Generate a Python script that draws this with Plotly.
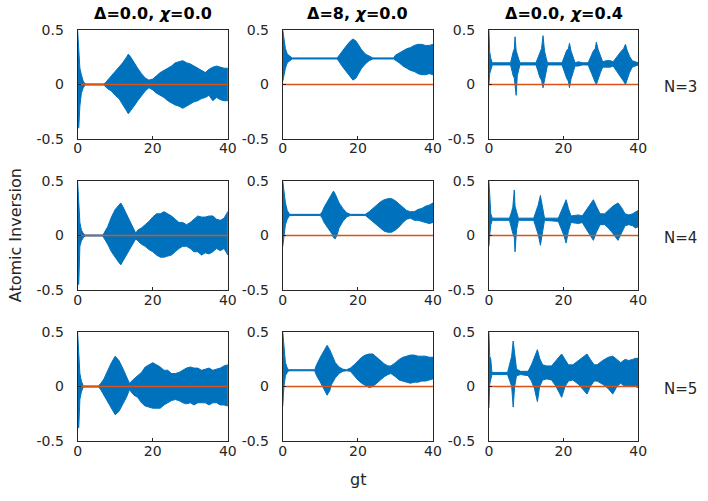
import plotly.graph_objects as go

# ---------------- data ----------------
# each row: (gt, upper envelope, lower envelope) of the atomic inversion
COL_TITLES = ["<b>Δ=0.0, <i>χ</i>=0.0</b>", "<b>Δ=8, <i>χ</i>=0.0</b>", "<b>Δ=0.0, <i>χ</i>=0.4</b>"]
ROW_LABELS = ["N=3", "N=4", "N=5"]
X_TICKS = [0, 20, 40]
X_TICK_TEXT = ["0", "20", "40"]
Y_TICKS = [-0.5, 0, 0.5]
Y_TICK_TEXT = ["-0.5", "0", "0.5"]
T_RANGE = [0, 40]
ZERO_LINE = [0, 0]

N3_D0_X0 = [
    (0, 0.5, -0.4), (0.3, 0.33, -0.4), (0.6, 0.15, -0.2), (1.0, 0.09, -0.08), (1.5, 0.03, -0.03),
    (2.0, 0.005, -0.005), (7.0, 0.005, -0.005), (7.5, 0.02, -0.02), (8, 0.04, -0.04), (9, 0.07, -0.06),
    (10, 0.11, -0.1), (11, 0.16, -0.13), (12, 0.2, -0.19), (13, 0.25, -0.24), (13.5, 0.28, -0.27),
    (14, 0.26, -0.25), (15, 0.2, -0.2), (16, 0.15, -0.15), (17, 0.1, -0.1), (18, 0.06, -0.06),
    (19, 0.04, -0.03), (20, 0.05, -0.05), (21, 0.08, -0.08), (22, 0.11, -0.1), (23, 0.13, -0.12),
    (24, 0.15, -0.15), (25, 0.17, -0.17), (26, 0.2, -0.19), (27, 0.21, -0.2), (28, 0.22, -0.22),
    (29, 0.2, -0.2), (30, 0.19, -0.18), (31, 0.17, -0.16), (32, 0.15, -0.15), (33, 0.13, -0.13),
    (34, 0.11, -0.12), (35, 0.14, -0.1), (36, 0.16, -0.15), (37, 0.17, -0.12), (38, 0.16, -0.14),
    (39, 0.15, -0.15), (40, 0.15, -0.15),
]
N3_D8_X0 = [
    (0, 0.5, 0.03), (0.3, 0.42, 0.06), (0.7, 0.33, 0.15), (1.2, 0.28, 0.2), (1.8, 0.26, 0.22),
    (2.5, 0.245, 0.235), (14.5, 0.245, 0.235), (15, 0.27, 0.21), (16, 0.31, 0.16), (17, 0.36, 0.11),
    (18, 0.4, 0.07), (18.7, 0.42, 0.04), (19.5, 0.4, 0.06), (20, 0.37, 0.09), (21, 0.32, 0.15),
    (22, 0.28, 0.19), (23, 0.26, 0.22), (24, 0.245, 0.235), (29.5, 0.245, 0.235), (30, 0.27, 0.22),
    (31, 0.29, 0.2), (32, 0.31, 0.17), (33, 0.33, 0.15), (34, 0.34, 0.13), (35, 0.36, 0.12),
    (36, 0.37, 0.1), (37, 0.37, 0.09), (38, 0.36, 0.09), (39, 0.36, 0.1), (40, 0.37, 0.09),
]
N3_D0_X04 = [
    (0, 0.5, 0.0), (0.2, 0.3, 0.1), (0.5, 0.24, 0.14), (0.9, 0.2, 0.18), (5.8, 0.2, 0.18),
    (6.1, 0.25, 0.14), (6.5, 0.3, 0.08), (6.8, 0.33, 0.06), (7.0, 0.44, 0.04), (7.3, 0.31, -0.1),
    (7.6, 0.28, 0.08), (8.0, 0.23, 0.14), (8.3, 0.2, 0.18), (12.6, 0.2, 0.18), (13.1, 0.25, 0.13),
    (13.6, 0.3, 0.07), (14.1, 0.33, 0.04), (14.5, 0.45, -0.03), (14.9, 0.31, 0.05), (15.3, 0.25, 0.12),
    (15.7, 0.2, 0.18), (19.6, 0.2, 0.18), (20.2, 0.26, 0.12), (20.8, 0.31, 0.06), (21.3, 0.33, 0.03),
    (21.6, 0.38, -0.03), (22.0, 0.31, 0.05), (22.5, 0.26, 0.11), (23.1, 0.2, 0.17), (24.0, 0.21, 0.17),
    (25.0, 0.2, 0.18), (26.6, 0.2, 0.18), (27.3, 0.26, 0.12), (28.0, 0.31, 0.06), (28.5, 0.33, 0.02),
    (28.8, 0.39, 0.0), (29.3, 0.32, 0.04), (29.9, 0.26, 0.11), (30.5, 0.21, 0.16), (31.5, 0.22, 0.16),
    (32.5, 0.22, 0.16), (33.3, 0.21, 0.17), (34.3, 0.26, 0.12), (35.3, 0.3, 0.07), (36.1, 0.33, 0.03),
    (36.6, 0.37, 0.0), (37.1, 0.31, 0.05), (37.7, 0.26, 0.11), (38.4, 0.22, 0.16), (39.2, 0.21, 0.17),
    (40, 0.2, 0.18),
]
N4_D0_X0 = [
    (0, 0.5, -0.45), (0.3, 0.3, -0.45), (0.6, 0.12, -0.1), (1.0, 0.05, -0.05), (1.5, 0.02, -0.02),
    (2, 0.005, -0.005), (6.7, 0.005, -0.005), (7, 0.02, -0.02), (8, 0.08, -0.08), (9, 0.17, -0.15),
    (10, 0.24, -0.2), (11, 0.28, -0.25), (11.5, 0.3, -0.27), (12, 0.27, -0.25), (13, 0.2, -0.18),
    (14, 0.12, -0.12), (15, 0.05, -0.06), (15.5, 0.02, -0.03), (16, 0.05, -0.05), (17, 0.07, -0.08),
    (18, 0.1, -0.1), (19, 0.13, -0.13), (20, 0.17, -0.15), (21, 0.2, -0.18), (22, 0.2, -0.2),
    (23, 0.22, -0.2), (24, 0.2, -0.19), (25, 0.18, -0.18), (26, 0.15, -0.15), (27, 0.12, -0.12),
    (28, 0.12, -0.1), (29, 0.1, -0.1), (30, 0.12, -0.12), (31, 0.15, -0.15), (32, 0.18, -0.15),
    (33, 0.17, -0.18), (34, 0.17, -0.16), (35, 0.18, -0.17), (36, 0.18, -0.15), (37, 0.15, -0.12),
    (38, 0.14, -0.14), (39, 0.16, -0.12), (40, 0.22, -0.18),
]
N4_D8_X0 = [
    (0, 0.5, -0.1), (0.3, 0.4, 0.0), (0.7, 0.3, 0.1), (1.2, 0.23, 0.15), (1.8, 0.195, 0.185),
    (10, 0.195, 0.185), (10.5, 0.22, 0.16), (11, 0.26, 0.12), (12, 0.32, 0.07), (13, 0.38, 0.02),
    (13.5, 0.41, -0.02), (14, 0.38, -0.03), (14.5, 0.34, 0.01), (15, 0.3, 0.07), (16, 0.25, 0.13),
    (17, 0.21, 0.17), (18, 0.195, 0.185), (22, 0.195, 0.185), (23, 0.22, 0.16), (24, 0.25, 0.13),
    (25, 0.28, 0.1), (26, 0.31, 0.07), (27, 0.33, 0.04), (28, 0.34, 0.03), (29, 0.34, 0.03),
    (30, 0.32, 0.05), (31, 0.29, 0.08), (32, 0.26, 0.12), (33, 0.23, 0.15), (34, 0.22, 0.16),
    (35, 0.22, 0.14), (36, 0.24, 0.14), (37, 0.25, 0.13), (38, 0.27, 0.12), (39, 0.28, 0.11),
    (40, 0.3, 0.12),
]
N4_D0_X04 = [
    (0, 0.5, -0.1), (0.2, 0.3, 0.0), (0.5, 0.2, 0.1), (0.9, 0.16, 0.14), (5.5, 0.16, 0.14),
    (6.0, 0.21, 0.08), (6.4, 0.26, 0.02), (6.8, 0.42, -0.02), (7.0, 0.27, -0.15), (7.4, 0.22, 0.05),
    (7.9, 0.16, 0.14), (12.0, 0.16, 0.14), (12.6, 0.22, 0.08), (13.2, 0.28, 0.01), (13.8, 0.37, -0.09),
    (14.3, 0.26, 0.03), (14.9, 0.16, 0.14), (18.6, 0.16, 0.13), (19.4, 0.23, 0.06), (20.1, 0.28, 0.0),
    (20.7, 0.33, -0.07), (21.3, 0.25, 0.04), (22.0, 0.18, 0.12), (24.0, 0.19, 0.11), (25.0, 0.18, 0.12),
    (26.0, 0.23, 0.07), (27.0, 0.28, 0.01), (28.0, 0.33, -0.045), (28.8, 0.27, 0.03), (29.8, 0.2, 0.1),
    (31.0, 0.2, 0.1), (32.0, 0.23, 0.07), (33.2, 0.27, 0.02), (34.6, 0.3, -0.045), (35.5, 0.26, 0.02),
    (36.5, 0.2, 0.09), (37.5, 0.19, 0.1), (38.5, 0.2, 0.09), (39.3, 0.22, 0.07), (40, 0.23, 0.08),
]
N5_D0_X0 = [
    (0, 0.5, -0.38), (0.3, 0.32, -0.38), (0.6, 0.12, -0.12), (1.0, 0.05, -0.05), (1.5, 0.005, -0.005),
    (5.5, 0.005, -0.005), (6, 0.02, -0.02), (7, 0.07, -0.07), (8, 0.15, -0.13), (9, 0.22, -0.2),
    (10, 0.28, -0.26), (11, 0.24, -0.23), (12, 0.17, -0.16), (13, 0.1, -0.1), (13.8, 0.03, -0.03),
    (15, 0.07, -0.08), (16, 0.1, -0.1), (17, 0.13, -0.15), (18, 0.18, -0.18), (19, 0.2, -0.19),
    (20, 0.22, -0.2), (21, 0.2, -0.2), (22, 0.18, -0.2), (23, 0.15, -0.17), (24, 0.15, -0.15),
    (25, 0.12, -0.13), (26, 0.12, -0.12), (27, 0.13, -0.13), (28, 0.15, -0.15), (29, 0.17, -0.16),
    (30, 0.18, -0.15), (31, 0.17, -0.17), (32, 0.17, -0.15), (33, 0.15, -0.15), (34, 0.16, -0.15),
    (35, 0.17, -0.17), (36, 0.15, -0.15), (37, 0.16, -0.15), (38, 0.17, -0.17), (39, 0.19, -0.17),
    (40, 0.2, -0.18),
]
N5_D8_X0 = [
    (0, 0.5, -0.18), (0.3, 0.35, 0.0), (0.7, 0.22, 0.1), (1.2, 0.17, 0.13), (1.6, 0.155, 0.145),
    (8.5, 0.155, 0.145), (9, 0.2, 0.1), (10, 0.27, 0.04), (11, 0.33, -0.02), (11.8, 0.38, -0.08),
    (12.5, 0.34, -0.04), (13, 0.3, 0.02), (14, 0.22, 0.08), (15, 0.18, 0.12), (16, 0.16, 0.14),
    (17, 0.155, 0.145), (18, 0.17, 0.14), (19, 0.2, 0.1), (20, 0.24, 0.06), (21, 0.27, 0.03),
    (22, 0.29, 0.01), (23, 0.3, -0.01), (24, 0.3, 0.0), (25, 0.27, 0.03), (26, 0.24, 0.06),
    (27, 0.21, 0.09), (28, 0.19, 0.11), (28.8, 0.19, 0.12), (30, 0.22, 0.09), (31, 0.25, 0.06),
    (32, 0.27, 0.05), (33, 0.28, 0.04), (34, 0.29, 0.03), (35, 0.29, 0.04), (36, 0.28, 0.04),
    (37, 0.28, 0.05), (38, 0.28, 0.05), (39, 0.27, 0.06), (40, 0.27, 0.07),
]
N5_D0_X04 = [
    (0, 0.5, -0.2), (0.2, 0.28, 0.02), (0.5, 0.25, 0.06), (0.8, 0.13, 0.11), (5.0, 0.13, 0.11),
    (5.6, 0.2, 0.05), (6.1, 0.28, 0.0), (6.5, 0.42, -0.19), (6.9, 0.3, 0.0), (7.4, 0.16, 0.1),
    (8.5, 0.14, 0.11), (10.5, 0.14, 0.1), (11.4, 0.2, 0.05), (12.2, 0.27, -0.02), (13.0, 0.34, -0.14),
    (13.6, 0.26, 0.0), (14.4, 0.2, 0.06), (15.5, 0.19, 0.07), (16.8, 0.19, 0.06), (18.0, 0.24, 0.0),
    (19.5, 0.3, -0.1), (20.4, 0.25, 0.0), (21.3, 0.2, 0.05), (22.5, 0.2, 0.06), (24.0, 0.24, 0.02),
    (25.3, 0.27, -0.03), (26.3, 0.3, -0.07), (27.2, 0.25, 0.0), (28.2, 0.2, 0.05), (29.0, 0.2, 0.05),
    (30.5, 0.24, 0.02), (32.0, 0.27, -0.02), (33.2, 0.28, -0.07), (34.3, 0.25, 0.0), (35.3, 0.22, 0.03),
    (36.5, 0.25, 0.0), (37.5, 0.24, 0.01), (38.5, 0.25, 0.0), (39.3, 0.26, 0.0), (40, 0.26, -0.01),
]

PANELS = [
    [N3_D0_X0, N3_D8_X0, N3_D0_X04],
    [N4_D0_X0, N4_D8_X0, N4_D0_X04],
    [N5_D0_X0, N5_D8_X0, N5_D0_X04],
]

# ---------------- layout geometry ----------------
W, H = 708, 501
COL_PX = [(75, 228), (284, 437), (494, 646)]
ROW_PX = [(23, 135), (179, 291), (335, 447)]
BLUE = "#0072BD"
ORANGE = "#D95319"
TXT = "#262626"
FONT = "DejaVu Sans"

fig = go.Figure()
layout = dict(
    width=W, height=H, margin=dict(l=0, r=0, t=0, b=0),
    paper_bgcolor="white", plot_bgcolor="white", showlegend=False,
    font=dict(family=FONT, size=14, color=TXT),
)
annotations = []

idx = 0
for r in range(3):
    for c in range(3):
        idx += 1
        xa = "x" if idx == 1 else f"x{idx}"
        ya = "y" if idx == 1 else f"y{idx}"
        rows = PANELS[r][c]
        t = [p[0] for p in rows]
        up = [p[1] for p in rows]
        lo = [p[2] for p in rows]
        fig.add_trace(go.Scatter(
            x=t + t[::-1], y=up + lo[::-1], mode="lines", fill="toself",
            fillcolor=BLUE, line=dict(color=BLUE, width=1), xaxis=xa, yaxis=ya,
            hoverinfo="skip"))
        fig.add_trace(go.Scatter(
            x=T_RANGE, y=ZERO_LINE, mode="lines", line=dict(color=ORANGE, width=1.5),
            xaxis=xa, yaxis=ya, hoverinfo="skip"))
        x0, x1 = COL_PX[c]
        y0, y1 = ROW_PX[r]
        common = dict(showline=True, mirror=True, linecolor=TXT, linewidth=1,
                      ticks="inside", ticklen=3, tickcolor=TXT, showgrid=False,
                      zeroline=False, tickfont=dict(family=FONT, size=14, color=TXT))
        layout[f"xaxis{idx}"] = dict(domain=[x0 / W, x1 / W], range=T_RANGE, anchor=ya,
                                     tickmode="array", tickvals=X_TICKS, ticktext=X_TICK_TEXT,
                                     ticklabelstandoff=-3, **common)
        layout[f"yaxis{idx}"] = dict(domain=[1 - y1 / H, 1 - y0 / H], range=[-0.5, 0.5], anchor=xa,
                                     tickmode="array", tickvals=Y_TICKS, ticktext=Y_TICK_TEXT,
                                     ticklabelstandoff=10, **common)

for c in range(3):
    x0, x1 = COL_PX[c]
    annotations.append(dict(text=COL_TITLES[c], x=(x0 + x1) / 2 / W, y=1 - 6 / H,
                            xref="paper", yref="paper", showarrow=False,
                            xanchor="center", yanchor="middle",
                            font=dict(family=FONT, size=16, color="black")))
for r in range(3):
    y0, y1 = ROW_PX[r]
    annotations.append(dict(text=ROW_LABELS[r], x=670 / W, y=1 - ((y0 + y1) / 2 + 3) / H,
                            xref="paper", yref="paper", showarrow=False,
                            xanchor="left", yanchor="middle",
                            font=dict(family=FONT, size=15, color=TXT)))
annotations.append(dict(text="Atomic Inversion", x=12 / W, y=1 - 235 / H, xref="paper", yref="paper",
                        showarrow=False, textangle=-90, xanchor="center", yanchor="middle",
                        font=dict(family=FONT, size=16, color=TXT)))
annotations.append(dict(text="gt", x=361 / W, y=1 - 487 / H, xref="paper", yref="paper",
                        showarrow=False, xanchor="center", yanchor="middle",
                        font=dict(family=FONT, size=16, color=TXT)))
layout["annotations"] = annotations
fig.update_layout(**layout)
fig.write_html("out.html")
